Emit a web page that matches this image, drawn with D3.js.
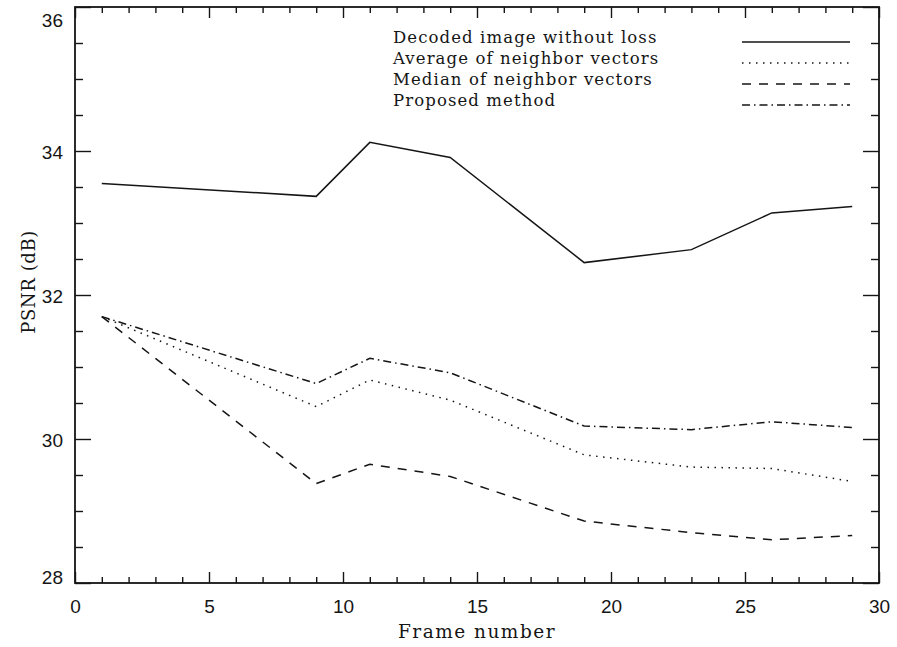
<!DOCTYPE html>
<html>
<head>
<meta charset="utf-8">
<script src="https://cdn.jsdelivr.net/npm/d3@7"></script>
<style>
  html, body { margin: 0; padding: 0; background: #fff; }
  svg { display: block; }
</style>
</head>
<body>
<svg id="chart" width="897" height="647"></svg>
<script>
// ---- data ----
const frames = [1, 9, 11, 14, 19, 23, 26, 29];
const lossless = [33.55, 33.37, 34.12, 33.91, 32.45, 32.63, 33.14, 33.23];
const average  = [31.70, 30.45, 30.82, 30.54, 29.78, 29.61, 29.59, 29.41];
const median   = [31.70, 29.38, 29.65, 29.48, 28.86, 28.70, 28.60, 28.66];
const proposed = [31.70, 30.77, 31.12, 30.92, 30.18, 30.13, 30.24, 30.16];
const seriesNames = ["Decoded image without loss", "Average of neighbor vectors",
                     "Median of neighbor vectors", "Proposed method"];
const xMajorTicks = [0, 5, 10, 15, 20, 25, 30];
const yMajorTicks = [28, 30, 32, 34, 36];
const xTitle = "Frame number";
const yTitle = "PSNR (dB)";

// ---- layout ----
const svg = d3.select("#chart");
const L = 75, R = 879, T = 7, B = 583;
const x = d3.scaleLinear().domain([0, 30]).range([L, R]);
const y = d3.scaleLinear().domain([28, 36]).range([B, T]);
const ink = "#151515";

const xMinor = d3.range(0, 31, 1).filter(v => v % 5 !== 0);
const yMinor = d3.range(28, 36.01, 0.5).filter(v => v % 2 !== 0);

function styleAxis(g) {
  g.select(".domain").remove();
  g.selectAll(".tick line").attr("stroke", ink).attr("stroke-width", 1.4);
  g.selectAll(".tick text").attr("fill", ink)
    .style("font-family", "'Liberation Sans', Arial, sans-serif")
    .style("font-size", "19px");
}

// bottom
svg.append("g").attr("transform", `translate(0,${B})`)
  .call(d3.axisBottom(x).tickValues(xMajorTicks).tickSizeInner(-11).tickSizeOuter(0).tickPadding(17).tickFormat(d3.format("d")))
  .call(styleAxis);
svg.append("g").attr("transform", `translate(0,${B})`)
  .call(d3.axisBottom(x).tickValues(xMinor).tickSizeInner(-6).tickSizeOuter(0).tickFormat(""))
  .call(styleAxis);
// top
svg.append("g").attr("transform", `translate(0,${T})`)
  .call(d3.axisTop(x).tickValues(xMajorTicks).tickSizeInner(-11).tickSizeOuter(0).tickFormat(""))
  .call(styleAxis);
svg.append("g").attr("transform", `translate(0,${T})`)
  .call(d3.axisTop(x).tickValues(xMinor).tickSizeInner(-6).tickSizeOuter(0).tickFormat(""))
  .call(styleAxis);
// left
svg.append("g").attr("transform", `translate(${L},0)`)
  .call(d3.axisLeft(y).tickValues(yMajorTicks).tickSizeInner(-16).tickSizeOuter(0).tickPadding(12).tickFormat(d3.format("d")))
  .call(styleAxis)
  .call(g => g.selectAll(".tick text")
    .attr("dy", d => d === 36 ? "1.05em" : d === 28 ? "0.05em" : "0.4em"));
svg.append("g").attr("transform", `translate(${L},0)`)
  .call(d3.axisLeft(y).tickValues(yMinor).tickSizeInner(-8).tickSizeOuter(0).tickFormat(""))
  .call(styleAxis);
// right
svg.append("g").attr("transform", `translate(${R},0)`)
  .call(d3.axisRight(y).tickValues(yMajorTicks).tickSizeInner(-16).tickSizeOuter(0).tickFormat(""))
  .call(styleAxis);
svg.append("g").attr("transform", `translate(${R},0)`)
  .call(d3.axisRight(y).tickValues(yMinor).tickSizeInner(-8).tickSizeOuter(0).tickFormat(""))
  .call(styleAxis);

// frame
svg.append("rect").attr("x", L).attr("y", T).attr("width", R - L).attr("height", B - T)
  .attr("fill", "none").attr("stroke", ink).attr("stroke-width", 1.8);

// series
const styles = [
  { data: lossless, dash: null },
  { data: average,  dash: "1.5,5.5" },
  { data: median,   dash: "9,8" },
  { data: proposed, dash: "8,4,1.5,4" }
];
const line = d3.line().x(d => x(d[0])).y(d => y(d[1]));
styles.forEach(s => {
  svg.append("path")
    .datum(frames.map((f, i) => [f, s.data[i]]))
    .attr("d", line)
    .attr("fill", "none")
    .attr("stroke", ink)
    .attr("stroke-width", 1.5)
    .attr("stroke-dasharray", s.dash);
});

// legend
const lg = svg.append("g");
seriesNames.forEach((name, i) => {
  const by = 43 + i * 21;
  lg.append("text").attr("x", 393).attr("y", by)
    .attr("fill", ink)
    .style("font-family", "'DejaVu Serif', serif")
    .style("font-size", "16.5px")
    .style("letter-spacing", "1.1px")
    .text(name);
  lg.append("line").attr("x1", 742).attr("x2", 850).attr("y1", by - 1).attr("y2", by - 1)
    .attr("stroke", ink).attr("stroke-width", 1.4)
    .attr("stroke-dasharray", styles[i].dash);
});

// axis titles
svg.append("text").attr("x", (L + R) / 2).attr("y", 638)
  .attr("text-anchor", "middle").attr("fill", ink)
  .style("font-family", "'DejaVu Serif', serif").style("font-size", "18.5px")
  .style("letter-spacing", "1.5px")
  .text(xTitle);
svg.append("text").attr("transform", "translate(35,282) rotate(-90)")
  .attr("text-anchor", "middle").attr("fill", ink)
  .style("font-family", "'DejaVu Serif', serif").style("font-size", "18px")
  .style("letter-spacing", "0.6px")
  .text(yTitle);
</script>
</body>
</html>
